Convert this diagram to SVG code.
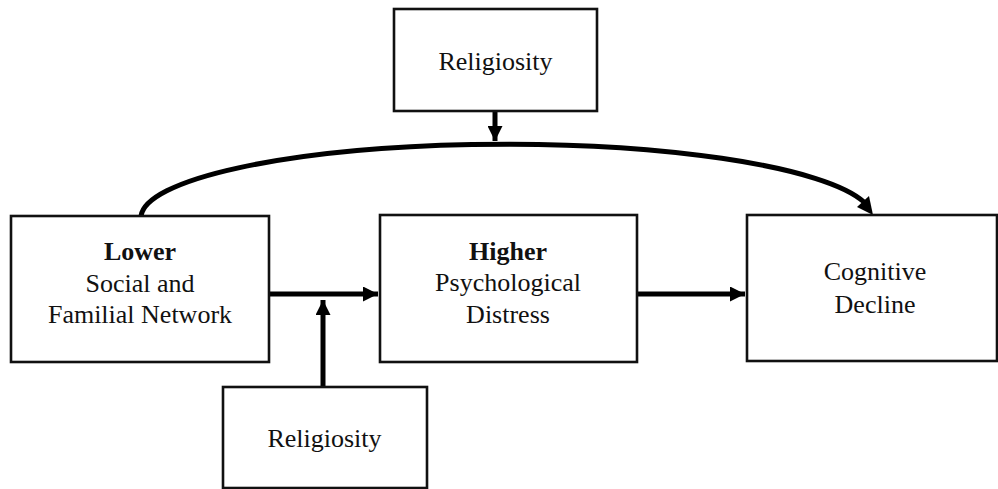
<svg xmlns="http://www.w3.org/2000/svg" width="998" height="489" viewBox="0 0 998 489">
<style>
.box{fill:#fff;stroke:#111;stroke-width:2.6}
.t{font-family:'Liberation Serif',serif;font-size:26px;fill:#111;text-anchor:middle}
.b{font-weight:bold}
.ln{fill:none;stroke:#000;stroke-width:5}
</style>
<defs>
<marker id="ah" markerWidth="15" markerHeight="15" refX="15" refY="7.5" orient="auto" markerUnits="userSpaceOnUse">
<path d="M0,0 L15,7.5 L0,15 Z" fill="#000"/>
</marker>
</defs>
<rect width="998" height="489" fill="#fff"/>
<g id="connectors">
<path class="ln" d="M141,216 A366,74 0 0 1 864,202"/>
<polygon points="873,215 857,207 869,196" fill="#000"/>
<line class="ln" x1="495" y1="111" x2="495" y2="141" marker-end="url(#ah)"/>
<line class="ln" x1="269" y1="294" x2="378" y2="294" marker-end="url(#ah)"/>
<line class="ln" x1="323" y1="387" x2="323" y2="300" marker-end="url(#ah)"/>
<line class="ln" x1="637" y1="294" x2="745" y2="294" marker-end="url(#ah)"/>
</g>
<g id="religiosity-top">
<rect class="box" x="394" y="9" width="203" height="102"/>
<text class="t" x="495.5" y="70">Religiosity</text>
</g>
<g id="social-network">
<rect class="box" x="11" y="216" width="258" height="146"/>
<text class="t b" x="140" y="260">Lower</text>
<text class="t" x="140" y="292">Social and</text>
<text class="t" x="140" y="323">Familial Network</text>
</g>
<g id="psych-distress">
<rect class="box" x="380" y="215" width="257" height="147"/>
<text class="t b" x="508" y="260">Higher</text>
<text class="t" x="508" y="291">Psychological</text>
<text class="t" x="508" y="323">Distress</text>
</g>
<g id="cognitive-decline">
<rect class="box" x="747" y="215" width="250" height="146"/>
<text class="t" x="875" y="280">Cognitive</text>
<text class="t" x="875" y="313">Decline</text>
</g>
<g id="religiosity-bottom">
<rect class="box" x="223" y="387" width="204" height="101"/>
<text class="t" x="324.5" y="447">Religiosity</text>
</g>
</svg>
